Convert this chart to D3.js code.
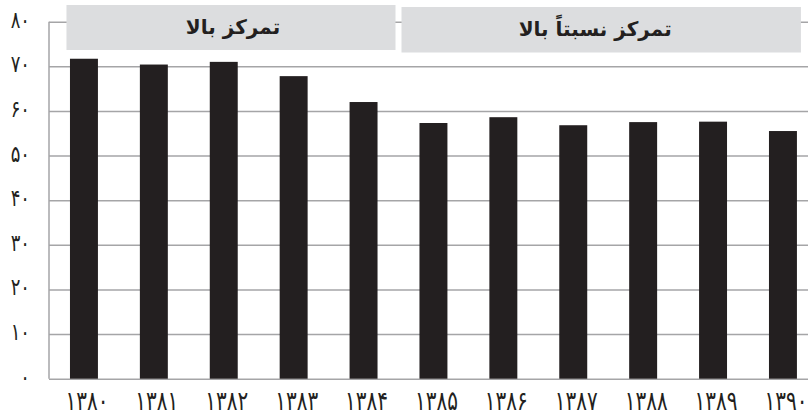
<!DOCTYPE html>
<html>
<head>
<meta charset="utf-8">
<script src="https://cdn.jsdelivr.net/npm/d3@7/dist/d3.min.js"></script>
<style>
	html, body { margin: 0; padding: 0; background: #fff; }
	svg { display: block; font-family: 'DejaVu Sans', sans-serif; }
</style>
</head>
<body>
<div id="chart"></div>
<script>
// years (solar hijri), concentration index
const years = ['۱۳۸۰', '۱۳۸۱', '۱۳۸۲', '۱۳۸۳', '۱۳۸۴', '۱۳۸۵', '۱۳۸۶', '۱۳۸۷', '۱۳۸۸', '۱۳۸۹', '۱۳۹۰'];
const values = [71.7, 70.4, 71.0, 67.8, 62.0, 57.3, 58.6, 56.8, 57.5, 57.6, 55.5];
const yTicks = [0, 10, 20, 30, 40, 50, 60, 70, 80];
const groupLabels = ['تمرکز بالا', 'تمرکز نسبتاً بالا'];
const groupFrom = ['۱۳۸۰', '۱۳۸۵'];
const groupTo = ['۱۳۸۴', '۱۳۹۰'];

const faDigits = '۰۱۲۳۴۵۶۷۸۹';
const toFa = function (n) {
	return String(n).replace(/[0-9]/g, function (c) { return faDigits[+c]; });
}

let opt = {
	width: 808,
	height: 417,
	left: 49,
	top: 21.7,
	bottom: 378.7,
	step: 69.9
};

const drawRoot = function (element) {
	return d3.select(element).append('svg')
		.attr('width', opt.width)
		.attr('height', opt.height);
}

const drawGrid = function (svg, yScale) {
	let grid = svg.append('g')
		.attr('class', 'grid')
		.attr('transform', `translate(${opt.left},0)`)
		.call(d3.axisLeft(yScale).tickValues(yTicks).tickSize(-(opt.width - opt.left)).tickFormat(''));
	grid.select('.domain').remove();
	grid.selectAll('line')
		.attr('stroke', '#a5a5a7')
		.attr('stroke-width', 1.5);

	svg.append('line')
		.attr('x1', opt.left)
		.attr('x2', opt.left)
		.attr('y1', yScale(80))
		.attr('y2', yScale(0))
		.attr('stroke', '#a5a5a7')
		.attr('stroke-width', 1.5);

	// tall digits: stretch a bit vertically to get closer to the naskh face
	svg.append('g')
		.selectAll('text')
		.data(yTicks)
		.enter().append('text')
		.attr('transform', function (d) { return `translate(30,${yScale(d) + 6}) scale(1,1.3)`; })
		.attr('text-anchor', 'end')
		.style('font-size', '18px')
		.style('fill', '#231f20')
		.text(function (d) { return toFa(d); });
}

const drawBars = function (svg, xScale, yScale) {
	svg.append('g')
		.selectAll('rect')
		.data(values)
		.enter().append('rect')
		.attr('x', function (d, i) { return xScale(years[i]); })
		.attr('y', function (d) { return yScale(d); })
		.attr('width', xScale.bandwidth())
		.attr('height', function (d) { return yScale(0) - yScale(d); })
		.attr('fill', '#231f20');

	let xAxis = svg.append('g')
		.attr('transform', `translate(0,${opt.bottom})`)
		.call(d3.axisBottom(xScale).tickSize(0).tickPadding(0));
	xAxis.select('.domain').remove();
	xAxis.selectAll('.tick')
		.attr('transform', function (d) { return `translate(${xScale(d) + xScale.bandwidth() / 2 + 3},31.5) scale(1,1.35)`; });
	xAxis.selectAll('text')
		.attr('y', 0)
		.attr('dy', 0)
		.style('font-size', '20px')
		.style('font-family', "'DejaVu Sans', sans-serif")
		.style('fill', '#231f20');
}

const drawHeaders = function (svg, xScale) {
	let bw = xScale.bandwidth();
	let mid = (xScale(groupTo[0]) + bw + xScale(groupFrom[1])) / 2;
	let boxes = [
		{ x0: xScale(groupFrom[0]) - 3.5, x1: mid - 3, y0: 5, y1: 50 },
		{ x0: mid + 3, x1: xScale(groupTo[1]) + bw + 4, y0: 7, y1: 52.5 }
	];

	let g = svg.append('g')
		.selectAll('g')
		.data(groupLabels)
		.enter().append('g');

	g.append('rect')
		.attr('x', function (d, i) { return boxes[i].x0; })
		.attr('y', function (d, i) { return boxes[i].y0; })
		.attr('width', function (d, i) { return boxes[i].x1 - boxes[i].x0; })
		.attr('height', function (d, i) { return boxes[i].y1 - boxes[i].y0; })
		.attr('fill', '#dcdddf');

	g.append('text')
		.attr('x', function (d, i) { return (boxes[i].x0 + boxes[i].x1) / 2 + (i ? -6 : 2); })
		.attr('y', function (d, i) { return (boxes[i].y0 + boxes[i].y1) / 2 + 6; })
		.attr('text-anchor', 'middle')
		.attr('direction', 'rtl')
		.style('font-size', '20px')
		.style('font-weight', 'bold')
		.style('fill', '#231f20')
		.text(function (d) { return d; });
}

let yScale = d3.scaleLinear()
	.domain([0, 80])
	.range([opt.bottom, opt.top]);

let xScale = d3.scaleBand()
	.domain(years)
	.range([opt.left, opt.left + years.length * opt.step])
	.paddingInner(0.6)
	.paddingOuter(0.3);

let svg = drawRoot('#chart');
drawGrid(svg, yScale);
drawBars(svg, xScale, yScale);
drawHeaders(svg, xScale);
</script>
</body>
</html>
